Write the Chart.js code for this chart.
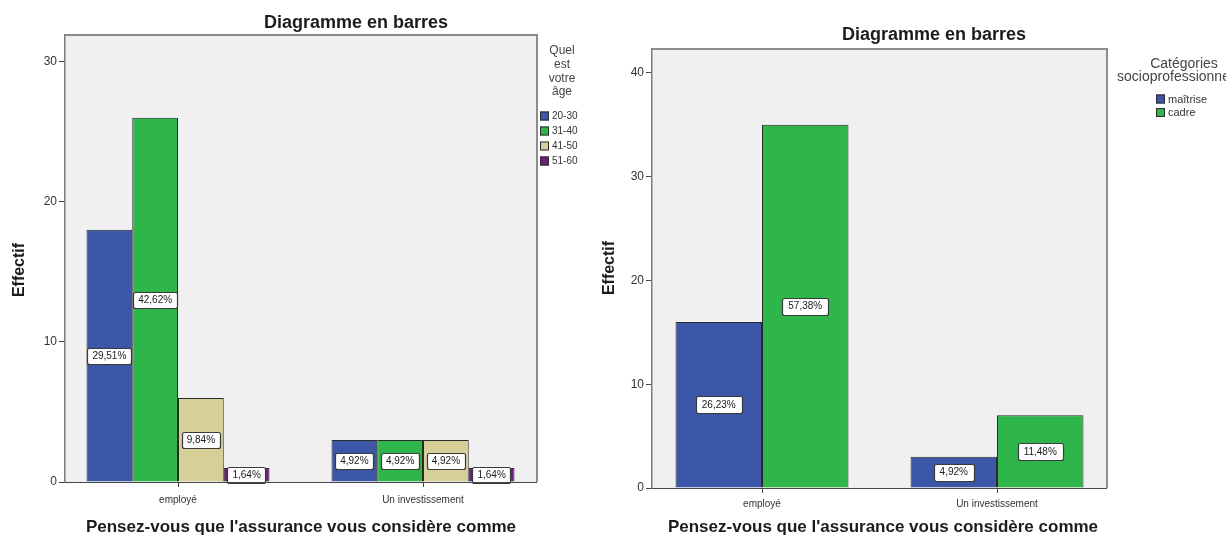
<!DOCTYPE html>
<html lang="fr">
<head>
<meta charset="utf-8">
<title>Diagramme en barres</title>
<script src="https://cdn.jsdelivr.net/npm/chart.js@4.4.1/dist/chart.umd.min.js"></script>
<style>
  html, body { margin: 0; padding: 0; background: #ffffff; }
  body { width: 1226px; height: 536px; position: relative; overflow: hidden; }
  canvas { position: absolute; top: 0; }
  #ageChart { left: 0; }
  #cspChart { left: 600px; }
</style>
</head>
<body>
<canvas id="ageChart" width="620" height="536"></canvas>
<canvas id="cspChart" width="626" height="536"></canvas>
<script>
// Categories shared by both charts
const categories = ['employé', 'Un investissement'];

// Left chart: counts by age group
const ageGroups = ['20-30', '31-40', '41-50', '51-60'];
const age20_30 = [18, 3];
const age31_40 = [26, 3];
const age41_50 = [6, 3];
const age51_60 = [1, 1];
const ageTicks = [0, 10, 20, 30];

// Right chart: counts by socio-professional category
const cspGroups = ['maîtrise', 'cadre'];
const cspMaitrise = [16, 3];
const cspCadre = [35, 7];
const cspTicks = [0, 10, 20, 30, 40];

// Styling
const FONT = '"Liberation Sans", Arial, sans-serif';
const ageColors = ['#3c56a8', '#2fb64b', '#d7cf98', '#6d1f7d'];
const cspColors = ['#3c56a8', '#2fb64b'];

function percentText(v, total) {
  return (v / total * 100).toFixed(2).replace('.', ',') + '%';
}

// Grey plot background + frame; the category range may reach a little
// past the frame on each side so the two groups sit further apart
const plotFrame = {
  id: 'plotFrame',
  afterLayout(chart, args, o) {
    const x = chart.scales.x;
    x.left -= o.extendLeft;
    x.right += o.extendRight;
    x.width = x.right - x.left;
    x.configure();
  },
  beforeDraw(chart) {
    const a = chart.chartArea, ctx = chart.ctx;
    ctx.save();
    ctx.fillStyle = '#f0f0f0';
    ctx.fillRect(a.left, a.top, a.right - a.left, a.bottom - a.top);
    ctx.restore();
  },
  afterDraw(chart) {
    const a = chart.chartArea, ctx = chart.ctx;
    ctx.save();
    ctx.strokeStyle = '#8c8c8c';
    ctx.lineWidth = 2;
    ctx.beginPath();
    ctx.moveTo(a.left, a.top);
    ctx.lineTo(a.right, a.top);
    ctx.lineTo(a.right, a.bottom);
    ctx.stroke();
    ctx.strokeStyle = '#444444';
    ctx.lineWidth = 1;
    ctx.beginPath();
    ctx.moveTo(a.left, Math.round(a.bottom) + 0.5);
    ctx.lineTo(a.right, Math.round(a.bottom) + 0.5);
    ctx.stroke();
    ctx.restore();
  }
};

// Boxed percentage labels in the middle of each bar
const valueBoxes = {
  id: 'valueBoxes',
  afterDatasetsDraw(chart, args, opts) {
    const ctx = chart.ctx;
    let total = 0;
    chart.data.datasets.forEach(ds => ds.data.forEach(v => total += v));
    ctx.save();
    ctx.font = opts.size + 'px ' + FONT;
    ctx.textAlign = 'center';
    ctx.textBaseline = 'middle';
    chart.data.datasets.forEach((ds, di) => {
      chart.getDatasetMeta(di).data.forEach((bar, i) => {
        const txt = percentText(ds.data[i], total);
        const cx = bar.x;
        const cy = (bar.y + bar.base) / 2;
        const w = ctx.measureText(txt).width + opts.padX * 2;
        const h = opts.boxH;
        ctx.beginPath();
        ctx.roundRect(Math.round(cx - w / 2) + 0.5, Math.round(cy - h / 2) + 0.5, Math.round(w), h, 2);
        ctx.fillStyle = '#ffffff';
        ctx.fill();
        ctx.strokeStyle = '#3a3a3a';
        ctx.lineWidth = 1.2;
        ctx.stroke();
        ctx.fillStyle = '#1a1a1a';
        ctx.fillText(txt, cx, cy + 0.5);
      });
    });
    ctx.restore();
  }
};

// Titles, axis titles and legend
const chartTexts = {
  id: 'chartTexts',
  afterDraw(chart, args, o) {
    const ctx = chart.ctx;
    ctx.save();
    ctx.textAlign = 'center';
    ctx.textBaseline = 'middle';
    ctx.fillStyle = '#1c1c1c';
    ctx.font = 'bold 18px ' + FONT;
    ctx.fillText(o.title, o.titleX, o.titleY);

    ctx.font = 'bold 17px ' + FONT;
    ctx.fillText(o.xTitle, o.xTitleX, o.xTitleY);

    ctx.save();
    ctx.translate(o.yTitleX, o.yTitleY);
    ctx.rotate(-Math.PI / 2);
    ctx.font = 'bold 16px ' + FONT;
    ctx.fillText(o.yTitle, 0, 0);
    ctx.restore();

    // legend title
    ctx.fillStyle = '#444444';
    ctx.font = o.legendTitleSize + 'px ' + FONT;
    o.legendTitle.forEach((line, i) => {
      ctx.fillText(line, o.legendTitleX, o.legendTitleY + i * o.legendTitleStep);
    });

    // legend items
    ctx.textAlign = 'left';
    ctx.font = o.legendSize + 'px ' + FONT;
    chart.data.datasets.forEach((ds, i) => {
      const y = o.legendY + i * o.legendStep;
      ctx.fillStyle = ds.backgroundColor;
      ctx.fillRect(o.legendX, y - 4.5, 9, 9);
      ctx.strokeStyle = '#2a2a2a';
      ctx.lineWidth = 1;
      ctx.strokeRect(o.legendX + 0.5, y - 4.5 + 0.5, 8, 8);
      ctx.fillStyle = '#333333';
      ctx.fillText(ds.label, o.legendX + 12, y + 0.5);
    });
    ctx.restore();
  }
};

function makeScales(tickValues, yMax, yWidth, xHeight, xPad) {
  return {
    x: {
      type: 'category',
      afterFit(s) { s.height = xHeight; },
      grid: { offset: false, drawOnChartArea: false, drawTicks: true, tickLength: 5, color: '#444444' },
      border: { display: false },
      ticks: { font: { family: FONT, size: 10 }, color: '#333333', padding: xPad, maxRotation: 0, autoSkip: false }
    },
    y: {
      type: 'linear',
      min: 0,
      max: yMax,
      afterFit(s) { s.width = yWidth; },
      afterBuildTicks(s) { s.ticks = tickValues.map(v => ({ value: v })); },
      grid: { drawOnChartArea: false, drawTicks: true, tickLength: 6, color: '#444444' },
      border: { display: true, color: '#7a7a7a', width: 1.5 },
      ticks: { font: { family: FONT, size: 12 }, color: '#333333', padding: 2 }
    }
  };
}

const ageSeries = [age20_30, age31_40, age41_50, age51_60];
new Chart(document.getElementById('ageChart'), {
  type: 'bar',
  data: {
    labels: categories,
    datasets: ageGroups.map((g, i) => ({
      label: g,
      data: ageSeries[i],
      backgroundColor: ageColors[i],
      borderColor: '#2a2a2a',
      borderWidth: 1,
      barPercentage: 1,
      categoryPercentage: 0.747
    }))
  },
  options: {
    responsive: false,
    animation: false,
    devicePixelRatio: 1,
    layout: { padding: { left: 0, top: 35, right: 83, bottom: 0 } },
    scales: makeScales(ageTicks, 31.9, 65, 54, 7),
    plugins: {
      legend: { display: false },
      tooltip: { enabled: false },
      plotFrame: { extendLeft: 9.5, extendRight: 8.5 },
      valueBoxes: { size: 10, padX: 5, boxH: 16 },
      chartTexts: {
        title: 'Diagramme en barres', titleX: 356, titleY: 23,
        xTitle: "Pensez-vous que l'assurance vous considère comme", xTitleX: 301, xTitleY: 527,
        yTitle: 'Effectif', yTitleX: 20, yTitleY: 270,
        legendTitle: ['Quel', 'est', 'votre', 'âge'], legendTitleSize: 12,
        legendTitleX: 562, legendTitleY: 51, legendTitleStep: 13.7,
        legendX: 540, legendY: 116, legendStep: 15, legendSize: 10
      }
    }
  },
  plugins: [plotFrame, valueBoxes, chartTexts]
});

const cspSeries = [cspMaitrise, cspCadre];
new Chart(document.getElementById('cspChart'), {
  type: 'bar',
  data: {
    labels: categories,
    datasets: cspGroups.map((g, i) => ({
      label: g,
      data: cspSeries[i],
      backgroundColor: cspColors[i],
      borderColor: '#2a2a2a',
      borderWidth: 1,
      barPercentage: 1,
      categoryPercentage: 0.736
    }))
  },
  options: {
    responsive: false,
    animation: false,
    devicePixelRatio: 1,
    layout: { padding: { left: 0, top: 49, right: 119, bottom: 0 } },
    scales: makeScales(cspTicks, 42.3, 52, 48, 5),
    plugins: {
      legend: { display: false },
      tooltip: { enabled: false },
      plotFrame: { extendLeft: 7.5, extendRight: 7.5 },
      valueBoxes: { size: 10, padX: 6, boxH: 17 },
      chartTexts: {
        title: 'Diagramme en barres', titleX: 334, titleY: 35,
        xTitle: "Pensez-vous que l'assurance vous considère comme", xTitleX: 283, xTitleY: 527,
        yTitle: 'Effectif', yTitleX: 10, yTitleY: 268,
        legendTitle: ['Catégories', 'socioprofessionnelles'], legendTitleSize: 14,
        legendTitleX: 584, legendTitleY: 64, legendTitleStep: 13.5,
        legendX: 556, legendY: 99, legendStep: 13.5, legendSize: 11
      }
    }
  },
  plugins: [plotFrame, valueBoxes, chartTexts]
});
</script>
</body>
</html>
